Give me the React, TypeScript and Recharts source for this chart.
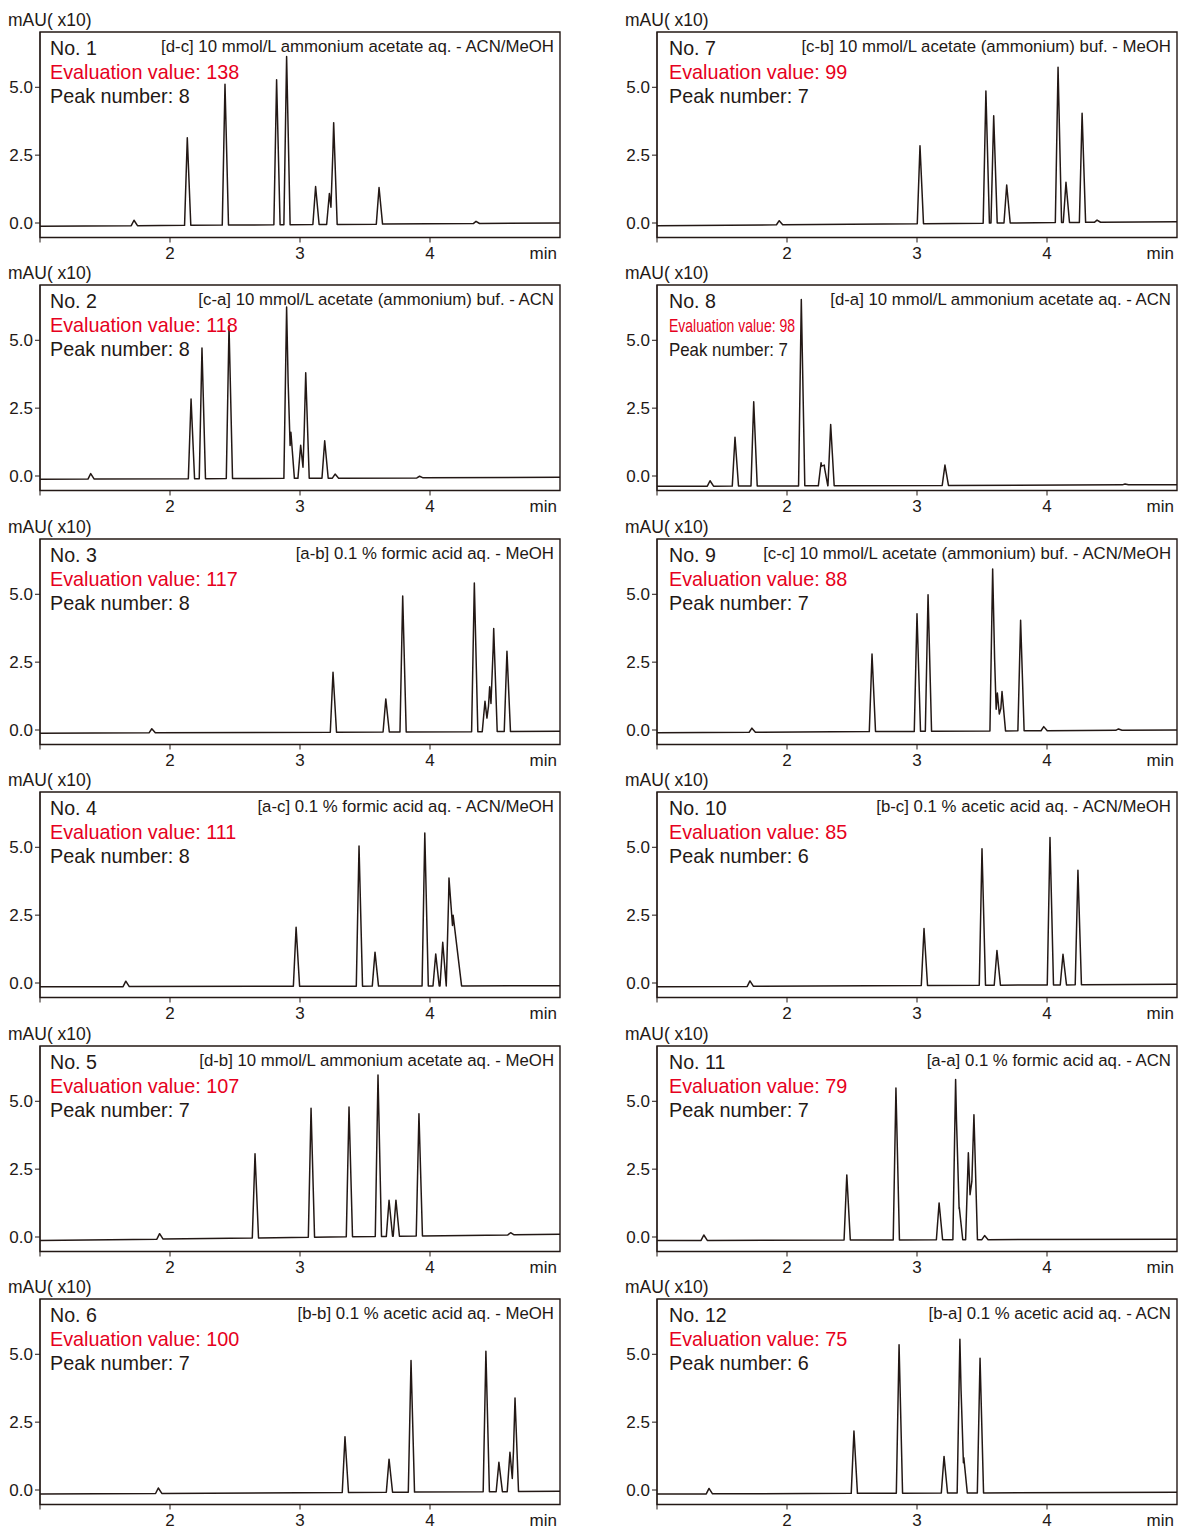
import React from 'react';
import { LineChart, Line, XAxis, YAxis, ReferenceArea } from 'recharts';

const INK = '#231815';
const RED = '#e60020';
const FONT = '"Liberation Sans", Arial, Helvetica, sans-serif';

// axis ticks
const xTicks = [1, 2, 3, 4];
const yTicks = [0, 2.5, 5];
const xDomain: [number, number] = [1, 5];
const yDomain: [number, number] = [-0.534, 7.037];

// panel annotations (No. 1 .. No. 12)
const panelNumbers = [1, 2, 3, 4, 5, 6, 7, 8, 9, 10, 11, 12];
const conditions = [
  '[d-c] 10 mmol/L ammonium acetate aq. - ACN/MeOH',
  '[c-a] 10 mmol/L acetate (ammonium) buf. - ACN',
  '[a-b] 0.1 % formic acid aq. - MeOH',
  '[a-c] 0.1 % formic acid aq. - ACN/MeOH',
  '[d-b] 10 mmol/L ammonium acetate aq. - MeOH',
  '[b-b] 0.1 % acetic acid aq. - MeOH',
  '[c-b] 10 mmol/L acetate (ammonium) buf. - MeOH',
  '[d-a] 10 mmol/L ammonium acetate aq. - ACN',
  '[c-c] 10 mmol/L acetate (ammonium) buf. - ACN/MeOH',
  '[b-c] 0.1 % acetic acid aq. - ACN/MeOH',
  '[a-a] 0.1 % formic acid aq. - ACN',
  '[b-a] 0.1 % acetic acid aq. - ACN',
];
const evaluationValues = [138, 118, 117, 111, 107, 100, 99, 98, 88, 85, 79, 75];
const peakNumbers = [8, 8, 8, 8, 7, 7, 7, 7, 7, 6, 7, 6];

// baseline level at 1 min and at 5 min, per panel
const baselines: [number, number][] = [
  [-0.12, 0.0], [-0.12, -0.05], [-0.12, -0.05], [-0.14, -0.1], [-0.13, 0.1], [-0.15, -0.05],
  [-0.1, 0.05], [-0.38, -0.32], [-0.1, 0.0], [-0.14, -0.05], [-0.13, -0.08], [-0.15, -0.08],
];

// peaks: [retention time (min), height above baseline (mAU x10), left half-width?, right half-width?]
const peaks1 = [[1.723, 0.2], [2.133, 3.23], [2.423, 5.19], [2.82, 5.34], [2.897, 6.2], [3.12, 1.4], [3.226, 1.14], [3.259, 3.75], [3.608, 1.35], [4.354, 0.08]];
const peaks2 = [[1.39, 0.2], [2.162, 2.94], [2.246, 4.81], [2.454, 5.62], [2.897, 6.31], [2.93, 1.7], [3.005, 1.22], [3.044, 3.89], [3.19, 1.38], [3.27, 0.15], [3.92, 0.06]];
const peaks3 = [[1.86, 0.15], [3.254, 2.21], [3.66, 1.22], [3.79, 5.01], [4.341, 5.48], [4.423, 1.12], [4.459, 1.65], [4.49, 3.8], [4.592, 2.96]];
const peaks4 = [[1.66, 0.2], [2.97, 2.17], [3.454, 5.16], [3.577, 1.25], [3.96, 5.64], [4.044, 1.18], [4.098, 1.61], [4.146, 3.75], [4.178, 2.6, 0.035, 0.065]];
const peaks5 = [[1.92, 0.2], [2.654, 3.1], [3.085, 4.75], [3.377, 4.78], [3.6, 5.95], [3.685, 1.33], [3.738, 1.33], [3.915, 4.5], [4.62, 0.08]];
const peaks6 = [[1.91, 0.2], [3.346, 2.05], [3.685, 1.22], [3.854, 4.85], [4.43, 5.18], [4.53, 1.08], [4.615, 1.45], [4.654, 3.45]];
const peaks7 = [[1.94, 0.15], [3.023, 2.87], [3.53, 4.87], [3.59, 3.95], [3.69, 1.4], [4.085, 5.72], [4.146, 1.48], [4.27, 4.02], [4.385, 0.08]];
const peaks8 = [[1.408, 0.2], [1.6, 1.8], [1.744, 3.1], [2.11, 6.87], [2.262, 0.85], [2.287, 0.7], [2.336, 2.26], [3.215, 0.75], [4.6, 0.03]];
const peaks9 = [[1.73, 0.15], [2.654, 2.86], [3.0, 4.33], [3.085, 5.03], [3.582, 5.97], [3.618, 1.4], [3.654, 1.45], [3.797, 4.07], [3.975, 0.15], [4.55, 0.05]];
const peaks10 = [[1.715, 0.2], [3.054, 2.1], [3.5, 5.03], [3.615, 1.28], [4.023, 5.43], [4.123, 1.13], [4.238, 4.22]];
const peaks11 = [[1.36, 0.2], [2.46, 2.4], [2.838, 5.6], [3.17, 1.36], [3.297, 5.9], [3.325, 1.2], [3.395, 3.2], [3.438, 4.6, 0.03, 0.027], [3.52, 0.15]];
const peaks12 = [[1.4, 0.2], [2.515, 2.3], [2.862, 5.47], [3.208, 1.35], [3.33, 5.66], [3.36, 1.3], [3.485, 4.96]];

const allPeaks = [peaks1, peaks2, peaks3, peaks4, peaks5, peaks6, peaks7, peaks8, peaks9, peaks10, peaks11, peaks12];

const WL = 0.021;
const WR = 0.027;

function buildTrace(peaks: number[][], base: [number, number]) {
  const times = new Set<number>([1, 5]);
  peaks.forEach(([rt, , wl = WL, wr = WR]) => {
    times.add(+(rt - wl).toFixed(4));
    times.add(rt);
    times.add(+(rt + wr).toFixed(4));
  });
  const ts = Array.from(times).sort((a, b) => a - b);
  return ts.map((t) => {
    let v = base[0] + ((base[1] - base[0]) * (t - 1)) / 4;
    for (const [rt, h, wl = WL, wr = WR] of peaks) {
      const d = t - rt;
      const w = d < 0 ? wl : wr;
      const f = 1 - Math.abs(d) / w;
      if (f > 0) v += h * f;
    }
    return { t, v };
  });
}

const ROW_PITCH = 253.4;
const COL_X = [0, 617];
const TEXT_SHIFT = [0, 2];
const CHART_W = 561;
const CHART_H = 265;
const PLOT_TOP = 32;

function Chromatogram({ idx }: { idx: number }) {
  const col = idx < 6 ? 0 : 1;
  const row = idx % 6;
  const data = buildTrace(allPeaks[idx], baselines[idx]);
  const tickStyle = { fontSize: 17, fill: INK, fontFamily: FONT };
  return (
    <div style={{ position: 'absolute', left: COL_X[col], top: row * ROW_PITCH }}>
      <LineChart width={CHART_W} height={CHART_H} data={data} margin={{ top: PLOT_TOP, right: 1, bottom: 0, left: 0 }}>
        <XAxis
          dataKey="t"
          type="number"
          domain={xDomain}
          allowDataOverflow
          ticks={xTicks}
          interval={0}
          tickFormatter={(v: number) => (v === 1 ? '' : String(v))}
          tickSize={5}
          tickMargin={4}
          height={27.5}
          stroke={INK}
          tick={tickStyle}
        />
        <YAxis
          type="number"
          domain={yDomain}
          allowDataOverflow
          ticks={yTicks}
          interval={0}
          tickFormatter={(v: number) => v.toFixed(1)}
          tickSize={5}
          tickMargin={2}
          width={40}
          stroke={INK}
          tick={tickStyle}
        />
        <ReferenceArea
          x1={xDomain[0]}
          x2={xDomain[1]}
          y1={yDomain[0]}
          y2={yDomain[1]}
          fill="none"
          fillOpacity={0}
          stroke={INK}
          strokeWidth={1.4}
          ifOverflow="visible"
        />
        <Line dataKey="v" type="linear" stroke={INK} strokeWidth={1.5} strokeLinejoin="round" dot={false} isAnimationActive={false} />
      </LineChart>
    </div>
  );
}

function Annotations() {
  const items: React.ReactNode[] = [];
  panelNumbers.forEach((n, idx) => {
    const col = idx < 6 ? 0 : 1;
    const row = idx % 6;
    const x0 = COL_X[col];
    const tx = x0 + TEXT_SHIFT[col];
    const y0 = row * ROW_PITCH;
    const condensed = n === 8;
    items.push(
      <g key={n} fontFamily={FONT}>
        <text x={x0 + 8} y={y0 + 26} fontSize={17.5} fill={INK}>mAU( x10)</text>
        <text x={tx + 50} y={y0 + 55} fontSize={19.6} fill={INK}>{`No. ${n}`}</text>
        <text x={x0 + 554} y={y0 + 52} fontSize={16.8} fill={INK} textAnchor="end">{conditions[idx]}</text>
        {condensed ? (
          <>
            <text x={tx + 50} y={y0 + 79} fontSize={18.5} fill={RED} textLength={126} lengthAdjust="spacingAndGlyphs">{`Evaluation value: ${evaluationValues[idx]}`}</text>
            <text x={tx + 50} y={y0 + 103} fontSize={18.5} fill={INK} textLength={119} lengthAdjust="spacingAndGlyphs">{`Peak number: ${peakNumbers[idx]}`}</text>
          </>
        ) : (
          <>
            <text x={tx + 50} y={y0 + 79} fontSize={19.8} fill={RED}>{`Evaluation value: ${evaluationValues[idx]}`}</text>
            <text x={tx + 50} y={y0 + 103} fontSize={19.8} fill={INK}>{`Peak number: ${peakNumbers[idx]}`}</text>
          </>
        )}
        <text x={x0 + 557} y={y0 + 259} fontSize={17} fill={INK} textAnchor="end">min</text>
      </g>
    );
  });
  return (
    <svg width={1178} height={1529} style={{ position: 'absolute', left: 0, top: 0, pointerEvents: 'none' }}>
      {items}
    </svg>
  );
}

export default function App() {
  return (
    <div style={{ position: 'absolute', left: 0, top: 0, width: 1178, height: 1529, overflow: 'hidden', background: '#fff' }}>
      {panelNumbers.map((n, idx) => (
        <Chromatogram key={n} idx={idx} />
      ))}
      <Annotations />
    </div>
  );
}
